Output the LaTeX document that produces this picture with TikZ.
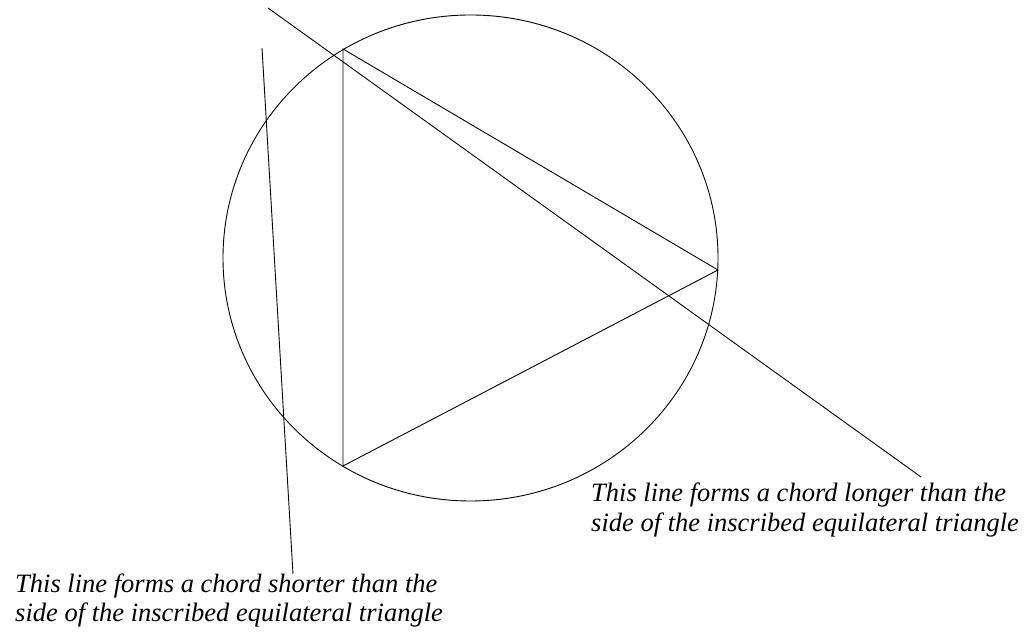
\documentclass[tikz,border=0pt]{standalone}
\usepackage{fontspec}
\setmainfont{Liberation Serif}
\begin{document}
\begin{tikzpicture}[x=1pt,y=1pt,
  thinline/.style={draw=black,line width=0.9pt},
  caption/.style={anchor=base west,inner sep=0pt,font=\fontsize{26.5}{30}\selectfont\itshape}]
\useasboundingbox (0,0) rectangle (1030,634);
% triangle vertices
\coordinate (A) at (343,585);
\coordinate (B) at (718,364);
\coordinate (C) at (343,168);
% circle
\draw[thinline] (470.5,376) ellipse [x radius=247.5, y radius=243];
\draw[thinline] (A) -- (B) -- (C) -- cycle;
% long chord line
\coordinate (L1) at (268,626);
\coordinate (L2) at (921,157);
\draw[thinline] (L1) -- (L2);
% short chord line
\coordinate (S1) at (262,586);
\coordinate (S2) at (293,60);
\draw[thinline] (S1) -- (S2);
% captions
\node[caption] (labRa) at (591,132) {This line forms a chord longer than the};
\node[caption] (labRb) at (591,102) {side of the inscribed equilateral triangle};
\node[caption] (labLa) at (15,41) {This line forms a chord shorter than the};
\node[caption] (labLb) at (15,12) {side of the inscribed equilateral triangle};
\end{tikzpicture}
\end{document}
